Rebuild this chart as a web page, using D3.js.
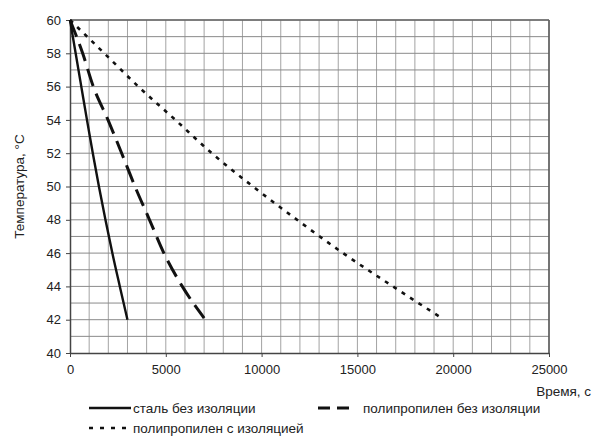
<!DOCTYPE html>
<html>
<head>
<meta charset="utf-8">
<script src="https://cdn.jsdelivr.net/npm/d3@7"></script>
<style>
  html, body { margin: 0; padding: 0; background: #fff; }
  svg { display: block; font-family: "Liberation Sans", Arial, sans-serif; }
</style>
</head>
<body>
<svg id="chart" width="599" height="437"></svg>
<script>
// Cooling curves: time (s) and temperature (°C) per pipe type
const steelTime = [0, 295, 590, 885, 1190, 1510, 1850, 2210, 2600, 3000];
const steelTemp = [60, 58, 56, 54, 52, 50, 48, 46, 44, 42];

const ppTime = [0, 661, 1217, 1983, 2697, 3392, 4150, 4900, 5860, 7000];
const ppTemp = [60, 58, 56, 54, 52, 50, 48, 46, 44, 42.1];

const ppInsTime = [0, 1790, 3570, 5500, 7400, 9550, 11850, 14250, 16850, 19400];
const ppInsTemp = [60, 58, 56, 54, 52, 50, 48, 46, 44, 42.1];

const xTicks = [0, 5000, 10000, 15000, 20000, 25000];
const yTicks = [40, 42, 44, 46, 48, 50, 52, 54, 56, 58, 60];

const seriesNames = ["сталь без изоляции", "полипропилен без изоляции", "полипропилен с изоляцией"];
const xTitle = "Время, с";
const yTitle = "Температура, °С";

const margin = { left: 70, right: 50, top: 20, bottom: 84 };
const W = 599, H = 437;
const svg = d3.select("#chart");

const x = d3.scaleLinear().domain([0, 25000]).range([margin.left, W - margin.right]);
const y = d3.scaleLinear().domain([40, 60]).range([H - margin.bottom, margin.top]);

// grid
const grid = svg.append("g");
grid.selectAll("line.v").data(d3.range(1000, 25001, 1000)).join("line")
  .attr("x1", d => x(d)).attr("x2", d => x(d))
  .attr("y1", y(40)).attr("y2", y(60))
  .attr("stroke", "#a3a3a3").attr("stroke-width", 1);
grid.selectAll("line.h").data(d3.range(41, 61, 1)).join("line")
  .attr("x1", x(0)).attr("x2", x(25000))
  .attr("y1", d => y(d)).attr("y2", d => y(d))
  .attr("stroke", "#8a8a8a").attr("stroke-width", 1);

// frame right/top
svg.append("line").attr("x1", x(25000)).attr("x2", x(25000)).attr("y1", y(40)).attr("y2", y(60))
  .attr("stroke", "#555").attr("stroke-width", 1.5);
svg.append("line").attr("x1", x(0)).attr("x2", x(25000)).attr("y1", y(60)).attr("y2", y(60))
  .attr("stroke", "#666").attr("stroke-width", 1.5);

// axes
const xAxis = svg.append("g").attr("transform", `translate(0,${y(40)})`)
  .call(d3.axisBottom(x).tickValues(xTicks).tickSize(4).tickSizeOuter(0).tickPadding(8).tickFormat(d3.format("d")));
const yAxis = svg.append("g").attr("transform", `translate(${x(0)},0)`)
  .call(d3.axisLeft(y).tickValues(yTicks).tickSize(4).tickSizeOuter(0).tickPadding(5).tickFormat(d3.format("d")));
[xAxis, yAxis].forEach(a => {
  a.select(".domain").attr("stroke", "#444").attr("stroke-width", 1.5);
  a.selectAll(".tick line").attr("stroke", "#444");
  a.selectAll(".tick text").attr("fill", "#222").style("font-size", "13px")
    .style("font-family", "'Liberation Sans', Arial, sans-serif");
});

// curves
const line = d3.line().x(d => x(d[0])).y(d => y(d[1])).curve(d3.curveMonotoneX);
const series = [
  { t: steelTime, v: steelTemp, w: 2.4, dash: null },
  { t: ppTime, v: ppTemp, w: 3, dash: "18,8" },
  { t: ppInsTime, v: ppInsTemp, w: 2.6, dash: "4,6" }
];
series.forEach(s => {
  svg.append("path")
    .datum(d3.zip(s.t, s.v))
    .attr("d", line)
    .attr("fill", "none")
    .attr("stroke", "#111")
    .attr("stroke-width", s.w)
    .attr("stroke-dasharray", s.dash);
});

// axis titles
svg.append("text").attr("x", 591).attr("y", 396).attr("text-anchor", "end")
  .attr("fill", "#222").style("font-size", "13.5px").text(xTitle);
svg.append("text")
  .attr("transform", `translate(24,${(y(40) + y(60)) / 2}) rotate(-90)`)
  .attr("text-anchor", "middle").attr("fill", "#222").style("font-size", "13.5px").text(yTitle);

// legend
const legend = [
  { x1: 89, x2: 131, y: 408, tx: 133, s: series[0], name: seriesNames[0] },
  { x1: 318, x2: 351, y: 408, tx: 363, s: series[1], name: seriesNames[1], dash: "12,7" },
  { x1: 89, x2: 131, y: 428, tx: 133, s: series[2], name: seriesNames[2], dash: "4,7" }
];
legend.forEach(l => {
  svg.append("line").attr("x1", l.x1).attr("x2", l.x2).attr("y1", l.y).attr("y2", l.y)
    .attr("stroke", "#111").attr("stroke-width", l.s.w)
    .attr("stroke-dasharray", l.dash || l.s.dash);
  svg.append("text").attr("x", l.tx).attr("y", l.y).attr("dy", "0.35em")
    .attr("fill", "#222").style("font-size", "13.5px").text(l.name);
});
</script>
</body>
</html>
